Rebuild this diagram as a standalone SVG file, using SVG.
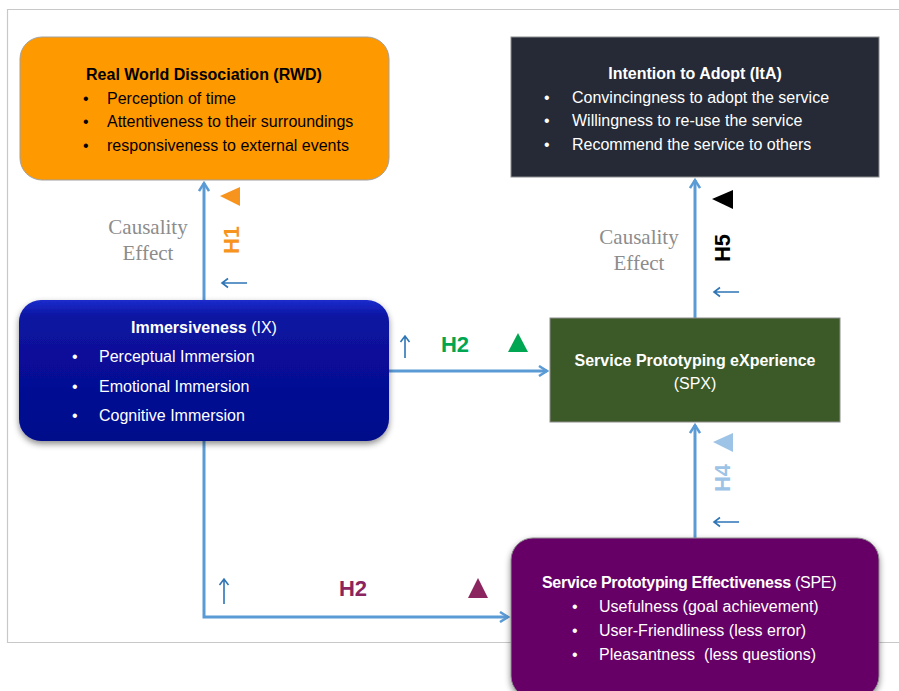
<svg xmlns="http://www.w3.org/2000/svg" width="899" height="691" viewBox="0 0 899 691">
<style>
.t{font-family:"Liberation Sans",Arial,sans-serif;font-size:16px}
.b{font-weight:bold}
.w{fill:#fff}
.k{fill:#000}
.c{font-family:"Liberation Serif","Times New Roman",serif;font-size:21px;fill:#8c8c8c;text-anchor:middle}
.h{font-family:"Liberation Sans",Arial,sans-serif;font-weight:bold;font-size:22px}
.con{stroke:#5b9bd5;stroke-width:3;fill:none}
.sa{stroke:#2e75b6;stroke-width:1.6;fill:none}
</style>
<defs>
<marker id="ah" markerWidth="12" markerHeight="12" refX="9" refY="6" orient="auto" markerUnits="userSpaceOnUse">
<path d="M1,1 L9,6 L1,11" fill="none" stroke="#5b9bd5" stroke-width="2.5"/>
</marker>
<filter id="sh" x="-10%" y="-10%" width="120%" height="130%">
<feDropShadow dx="0" dy="3" stdDeviation="3" flood-color="#000" flood-opacity="0.45"/>
</filter>
<linearGradient id="gIX" x1="0" y1="0" x2="0" y2="1">
<stop offset="0" stop-color="#1c2ccc"/>
<stop offset="0.12" stop-color="#0a14a0"/>
<stop offset="1" stop-color="#02078a"/>
</linearGradient>
</defs>
<g id="frame" fill="none" stroke="#c8c8c8" stroke-width="1.2">
<path d="M899,9.5 H7.5 V642.5 H899"/>
</g>
<g id="connectors">
<line class="con" x1="204" y1="300" x2="204" y2="183" marker-end="url(#ah)"/>
<line class="con" x1="695" y1="318" x2="695" y2="180" marker-end="url(#ah)"/>
<line class="con" x1="389" y1="371" x2="547" y2="371" marker-end="url(#ah)"/>
<path class="con" d="M204,441 V617 H508" marker-end="url(#ah)"/>
<line class="con" x1="695" y1="538" x2="695" y2="425" marker-end="url(#ah)"/>
</g>
<g id="labels">
<text class="c" x="148" y="234">Causality</text>
<text class="c" x="148" y="260">Effect</text>
<polygon points="220,196 240,187 240,206" fill="#f7941d"/>
<text class="h" fill="#f7941d" transform="translate(239,240) rotate(-90)" text-anchor="middle">H1</text>
<path class="sa" d="M222,283 H247 M228,278.5 L222,283 L228,287.5"/>

<text class="c" x="639" y="244">Causality</text>
<text class="c" x="639" y="270">Effect</text>
<polygon points="712,199 733,190 733,209" fill="#000"/>
<text class="h" fill="#000" transform="translate(730,248) rotate(-90)" text-anchor="middle">H5</text>
<path class="sa" d="M714,292 H739 M720,287.5 L714,292 L720,296.5"/>

<path class="sa" d="M405,358 V336 M400.5,342 L405,336 L409.5,342"/>
<text class="h" fill="#00a651" x="455" y="352" text-anchor="middle" font-size="24">H2</text>
<polygon points="518,333 528,352 508,352" fill="#00a651"/>

<polygon points="713,442 733,433 733,452" fill="#9dc3e6"/>
<text class="h" fill="#9dc3e6" transform="translate(730,478) rotate(-90)" text-anchor="middle">H4</text>
<path class="sa" d="M714,522 H739 M720,517.5 L714,522 L720,526.5"/>

<path class="sa" d="M224,604 V579 M219.5,585 L224,579 L228.5,585"/>
<text class="h" fill="#8b2560" x="353" y="596" text-anchor="middle" font-size="24">H2</text>
<polygon points="478,578 488,598 468,598" fill="#8b2560"/>
</g>
<g id="RWD">
<rect x="20" y="37" width="369" height="143" rx="22" fill="#ff9900" stroke="#a0a0a0" stroke-width="1"/>
<text class="t b k" x="204" y="80" text-anchor="middle">Real World Dissociation (RWD)</text>
<text class="t k" x="83" y="104">•</text><text class="t k" x="107" y="104">Perception of time</text>
<text class="t k" x="83" y="127">•</text><text class="t k" x="107" y="127">Attentiveness to their surroundings</text>
<text class="t k" x="83" y="151">•</text><text class="t k" x="107" y="151">responsiveness to external events</text>
</g>
<g id="ItA">
<rect x="511" y="37" width="368" height="140" fill="#252a36" stroke="#8c8c8c" stroke-width="1"/>
<text class="t b w" x="695" y="79" text-anchor="middle">Intention to Adopt (ItA)</text>
<text class="t w" x="544" y="103">•</text><text class="t w" x="572" y="103">Convincingness to adopt the service</text>
<text class="t w" x="544" y="126">•</text><text class="t w" x="572" y="126">Willingness to re-use the service</text>
<text class="t w" x="544" y="150">•</text><text class="t w" x="572" y="150">Recommend the service to others</text>
</g>
<g id="IX">
<rect x="19" y="300" width="370" height="141" rx="22" fill="url(#gIX)" filter="url(#sh)"/>
<text class="t w" x="204" y="333" text-anchor="middle"><tspan class="b">Immersiveness</tspan> (IX)</text>
<text class="t w" x="72" y="362">•</text><text class="t w" x="99" y="362">Perceptual Immersion</text>
<text class="t w" x="72" y="392">•</text><text class="t w" x="99" y="392">Emotional Immersion</text>
<text class="t w" x="72" y="421">•</text><text class="t w" x="99" y="421">Cognitive Immersion</text>
</g>
<g id="SPX">
<rect x="550" y="318" width="290" height="104" fill="#3c5a27" stroke="#8c8c8c" stroke-width="1"/>
<text class="t b w" x="695" y="366" text-anchor="middle">Service Prototyping eXperience</text>
<text class="t w" x="695" y="389" text-anchor="middle">(SPX)</text>
</g>
<g id="SPE">
<rect x="511" y="538" width="368" height="160" rx="22" fill="#660066" stroke="#8c8c8c" stroke-width="1" filter="url(#sh)"/>
<text class="t w" x="542" y="588" font-size="15" letter-spacing="-0.3"><tspan class="b">Service Prototyping Effectiveness</tspan> (SPE)</text>
<text class="t w" x="572" y="612">•</text><text class="t w" x="599" y="612">Usefulness (goal achievement)</text>
<text class="t w" x="572" y="636">•</text><text class="t w" x="599" y="636">User-Friendliness (less error)</text>
<text class="t w" x="572" y="660">•</text><text class="t w" x="599" y="660" style="white-space:pre">Pleasantness  (less questions)</text>
</g>
</svg>
